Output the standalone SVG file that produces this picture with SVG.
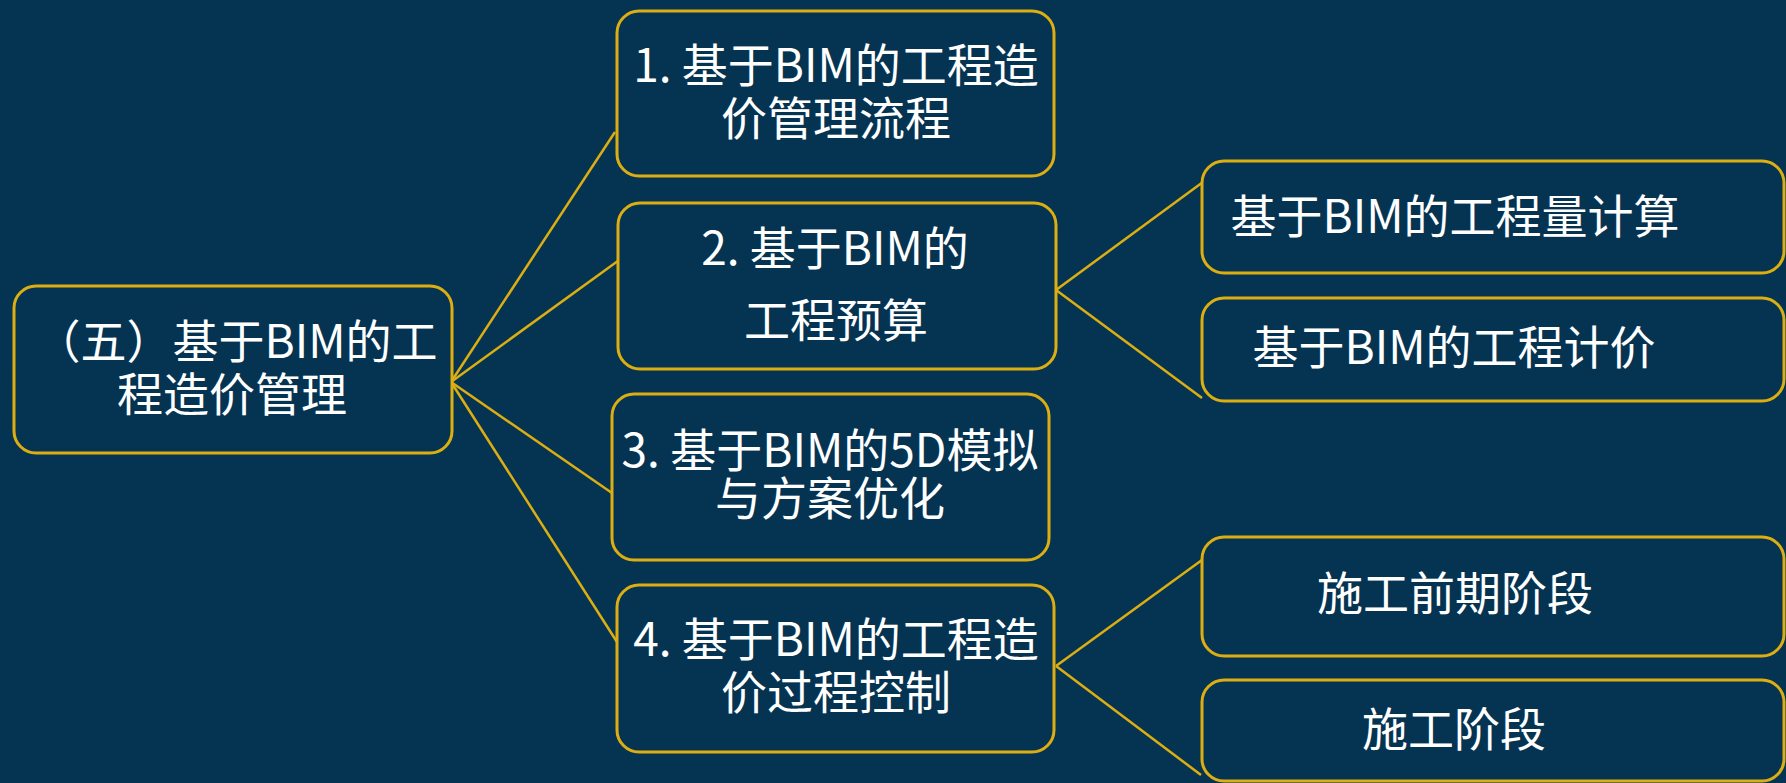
<svg xmlns="http://www.w3.org/2000/svg" width="1786" height="783" viewBox="0 0 1786 783">
<style>
.bg{fill:#053452}
.box{fill:#053452;stroke:#dcae12;stroke-width:3}
.link{fill:none;stroke:#dcae12;stroke-width:2.5}
text{font-family:"Noto Sans CJK SC","Noto Sans",sans-serif;font-size:46px;fill:#ffffff;text-anchor:middle}
</style>
<rect class="bg" x="0" y="0" width="1786" height="783"/>
<g id="connectors">
<path class="link" d="M451,382 L615,132"/>
<path class="link" d="M451,382 L622,258"/>
<path class="link" d="M451,382 L612,493"/>
<path class="link" d="M451,382 L617,642"/>
<path class="link" d="M1056,290 L1203,182"/>
<path class="link" d="M1056,290 L1202,398"/>
<path class="link" d="M1056,666 L1202,560"/>
<path class="link" d="M1056,666 L1201,775"/>
</g>
<g id="root">
<rect class="box" x="14" y="286" width="438" height="167" rx="22"/>
<text><tspan x="236" y="358">（五）基于BIM的工</tspan><tspan x="232" y="411">程造价管理</tspan></text>
</g>
<g id="n1">
<rect class="box" x="617" y="11" width="437" height="165" rx="22"/>
<text><tspan x="836" y="82">1. 基于BIM的工程造</tspan><tspan x="836" y="135">价管理流程</tspan></text>
</g>
<g id="n2">
<rect class="box" x="618" y="203" width="438" height="166" rx="22"/>
<text><tspan x="835" y="265">2. 基于BIM的</tspan><tspan x="836" y="337">工程预算</tspan></text>
</g>
<g id="n3">
<rect class="box" x="612" y="394" width="437" height="166" rx="22"/>
<text><tspan x="830" y="467">3. 基于BIM的5D模拟</tspan><tspan x="830" y="515">与方案优化</tspan></text>
</g>
<g id="n4">
<rect class="box" x="617" y="585" width="437" height="167" rx="22"/>
<text><tspan x="836" y="656">4. 基于BIM的工程造</tspan><tspan x="836" y="709">价过程控制</tspan></text>
</g>
<g id="n2a">
<rect class="box" x="1202" y="161" width="582" height="112" rx="22"/>
<text x="1455" y="233">基于BIM的工程量计算</text>
</g>
<g id="n2b">
<rect class="box" x="1202" y="298" width="582" height="103" rx="22"/>
<text x="1454" y="364">基于BIM的工程计价</text>
</g>
<g id="n4a">
<rect class="box" x="1202" y="537" width="582" height="119" rx="22"/>
<text x="1455" y="610">施工前期阶段</text>
</g>
<g id="n4b">
<rect class="box" x="1202" y="680" width="582" height="101" rx="22"/>
<text x="1454" y="746">施工阶段</text>
</g>
</svg>
